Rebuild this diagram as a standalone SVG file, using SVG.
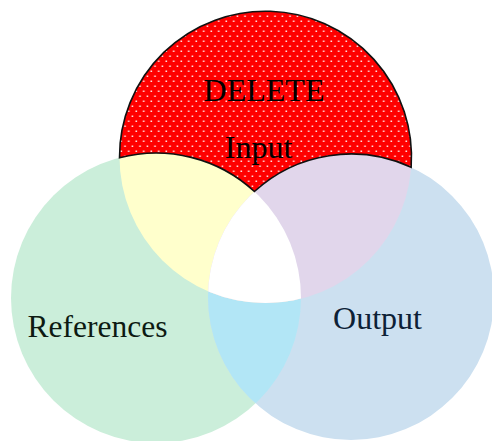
<svg xmlns="http://www.w3.org/2000/svg" width="492" height="441" viewBox="0 0 492 441">
  <style>
    .label { font-family: "Liberation Serif", "Times New Roman", serif; text-anchor: middle; }
  </style>
  <defs>
    <!-- sparse white dot fill for the exclusive Input region -->
    <pattern id="dots" patternUnits="userSpaceOnUse" width="7.5" height="10">
      <rect x="0.5" y="0.5" width="1.5" height="1.5" fill="#ffffff" opacity="0.95"/>
      <rect x="4.25" y="5.5" width="1.5" height="1.5" fill="#ffffff" opacity="0.95"/>
    </pattern>
    <clipPath id="clipLeft"><circle cx="156" cy="298" r="145"/></clipPath>
    <clipPath id="clipRight"><circle cx="351" cy="297" r="143"/></clipPath>
  </defs>

  <rect width="492" height="441" fill="#ffffff"/>

  <!-- References set -->
  <g id="node-references">
    <circle cx="156" cy="298" r="145" fill="#cbeeda"/>
  </g>

  <!-- Output set -->
  <g id="node-output">
    <circle cx="351" cy="297" r="143" fill="#cce0f0"/>
  </g>

  <!-- pairwise and triple overlaps -->
  <g id="overlaps">
    <circle cx="351" cy="297" r="143" fill="#b2e6f6" clip-path="url(#clipLeft)"/>
    <circle cx="265.5" cy="157" r="146" fill="#ffffcc" clip-path="url(#clipLeft)"/>
    <circle cx="265.5" cy="157" r="146" fill="#e1d6eb" clip-path="url(#clipRight)"/>
    <g clip-path="url(#clipLeft)">
      <circle cx="265.5" cy="157" r="146" fill="#ffffff" clip-path="url(#clipRight)"/>
    </g>
  </g>

  <!-- Input set: exclusive part, red with dot fill and black outline -->
  <g id="node-input">
    <path d="M119.5,157.7 A146,146 0 1 1 411.15,167.28 A143,143 0 0 0 254.4,191.5 A145,145 0 0 0 119.5,157.7 Z" fill="#ff0000"/>
    <path d="M119.5,157.7 A146,146 0 1 1 411.15,167.28 A143,143 0 0 0 254.4,191.5 A145,145 0 0 0 119.5,157.7 Z" fill="url(#dots)" stroke="#111111" stroke-width="1.6" stroke-linejoin="miter"/>
    <text class="label" x="264" y="101" font-size="32" fill="#000000">DELETE</text>
    <text class="label" x="258.5" y="158" font-size="32" fill="#000000">Input</text>
  </g>

  <!-- set labels -->
  <text class="label" x="97.5" y="337" font-size="31.5" fill="#0d1a12">References</text>
  <text class="label" x="377.5" y="329" font-size="32" fill="#0d2136">Output</text>
</svg>
